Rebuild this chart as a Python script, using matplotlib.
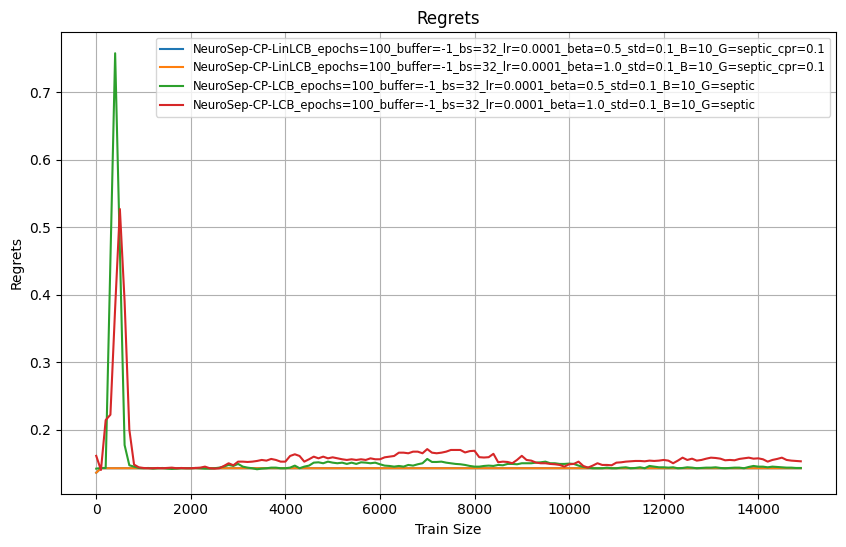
import numpy as np
import matplotlib
matplotlib.use('Agg')
import matplotlib.pyplot as plt

train_size = np.arange(0, 15000, 100)

labels = [
    'NeuroSep-CP-LinLCB_epochs=100_buffer=-1_bs=32_lr=0.0001_beta=0.5_std=0.1_B=10_G=septic_cpr=0.1',
    'NeuroSep-CP-LinLCB_epochs=100_buffer=-1_bs=32_lr=0.0001_beta=1.0_std=0.1_B=10_G=septic_cpr=0.1',
    'NeuroSep-CP-LCB_epochs=100_buffer=-1_bs=32_lr=0.0001_beta=0.5_std=0.1_B=10_G=septic',
    'NeuroSep-CP-LCB_epochs=100_buffer=-1_bs=32_lr=0.0001_beta=1.0_std=0.1_B=10_G=septic',
]

# LinLCB runs are flat, both sit on the same value
linlcb_05 = [0.136] + [0.1426] * 149
linlcb_10 = [0.136] + [0.1426] * 149

lcb_05 = [
    0.142, 0.143, 0.143, 0.45, 0.758, 0.47, 0.177, 0.147, 0.145, 0.143,
    0.1426, 0.143, 0.1421, 0.1426, 0.143, 0.1421, 0.1416, 0.1421, 0.1426, 0.1426,
    0.1426, 0.143, 0.1426, 0.1421, 0.1421, 0.1426, 0.1435, 0.145, 0.1475, 0.146,
    0.149, 0.145, 0.1435, 0.1426, 0.1411, 0.1421, 0.1426, 0.1435, 0.1435, 0.1426,
    0.1426, 0.1435, 0.1465, 0.1426, 0.145, 0.1465, 0.1509, 0.1514, 0.15, 0.1524,
    0.1509, 0.15, 0.1509, 0.149, 0.1509, 0.149, 0.1514, 0.1509, 0.15, 0.1509,
    0.1485, 0.1465, 0.146, 0.145, 0.146, 0.145, 0.1475, 0.1465, 0.1485, 0.15,
    0.1564, 0.1519, 0.1519, 0.1524, 0.1509, 0.15, 0.149, 0.1485, 0.1475, 0.146,
    0.145, 0.145, 0.146, 0.1465, 0.146, 0.1475, 0.147, 0.149, 0.149, 0.1485,
    0.15, 0.15, 0.15, 0.1509, 0.1514, 0.1524, 0.15, 0.15, 0.149, 0.149,
    0.1495, 0.149, 0.1465, 0.1445, 0.1435, 0.1426, 0.1426, 0.1426, 0.1435, 0.1426,
    0.1426, 0.1435, 0.144, 0.1426, 0.143, 0.144, 0.1426, 0.146, 0.145, 0.144,
    0.144, 0.1435, 0.144, 0.1426, 0.143, 0.144, 0.1435, 0.1426, 0.143, 0.1435,
    0.1435, 0.144, 0.143, 0.1426, 0.143, 0.1435, 0.1435, 0.1426, 0.1445, 0.146,
    0.145, 0.145, 0.144, 0.145, 0.1445, 0.144, 0.1435, 0.1435, 0.143, 0.143,
]

lcb_10 = [
    0.161, 0.140, 0.214, 0.222, 0.38, 0.527, 0.39, 0.20, 0.148, 0.144,
    0.143, 0.1426, 0.1426, 0.143, 0.1426, 0.143, 0.1435, 0.1426, 0.143, 0.1426,
    0.1426, 0.143, 0.1435, 0.145, 0.1426, 0.1421, 0.1426, 0.146, 0.15, 0.147,
    0.1524, 0.1524, 0.1519, 0.1524, 0.1534, 0.1549, 0.1539, 0.1564, 0.1549, 0.1524,
    0.1524, 0.1608, 0.1633, 0.1608, 0.1524, 0.1559, 0.1598, 0.1573, 0.1598, 0.1573,
    0.1588, 0.1573, 0.1559, 0.1549, 0.1559, 0.1549, 0.1559, 0.1549, 0.1573, 0.1559,
    0.1559, 0.1588, 0.1598, 0.1608, 0.1657, 0.1657, 0.1648, 0.1672, 0.1672, 0.1648,
    0.171, 0.1657, 0.1648, 0.1657, 0.1672, 0.1697, 0.1697, 0.1697, 0.166, 0.168,
    0.1685, 0.159, 0.1585, 0.159, 0.164, 0.1515, 0.1524, 0.1519, 0.15, 0.155,
    0.161, 0.1549, 0.1539, 0.151, 0.15, 0.15, 0.149, 0.1485, 0.1475, 0.145,
    0.1485, 0.149, 0.1524, 0.146, 0.1435, 0.1465, 0.15, 0.1475, 0.1475, 0.147,
    0.1509, 0.1514, 0.1524, 0.1529, 0.1534, 0.1534, 0.1529, 0.1539, 0.1534, 0.1539,
    0.1549, 0.1539, 0.15, 0.1539, 0.1583, 0.1549, 0.1568, 0.1539, 0.1549, 0.1568,
    0.1583, 0.1578, 0.1568, 0.1544, 0.1549, 0.1544, 0.1564, 0.1573, 0.1583, 0.1568,
    0.1573, 0.1559, 0.1524, 0.1549, 0.1564, 0.1583, 0.1549, 0.1539, 0.1534, 0.1529,
]

fig = plt.figure(figsize=(8.46, 5.47), dpi=100)
ax = fig.add_subplot(111)
fig.subplots_adjust(left=0.0721, right=0.9882, top=0.941, bottom=0.0975)

for series, label in zip([linlcb_05, linlcb_10, lcb_05, lcb_10], labels):
    ax.plot(train_size, series, label=label)

ax.set_title('Regrets')
ax.set_xlabel('Train Size')
ax.set_ylabel('Regrets')
ax.grid(True)
ax.legend(loc='upper right', fontsize='small')

fig.savefig('out.png', dpi=100)
